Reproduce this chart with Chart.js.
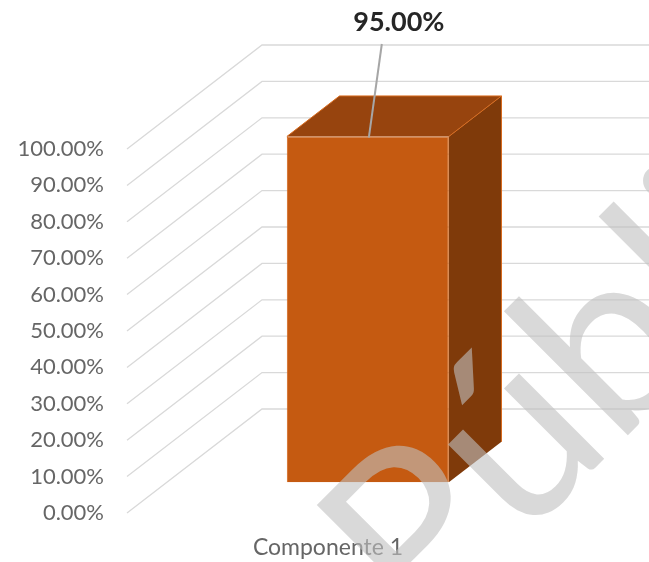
<!DOCTYPE html>
<html>
<head>
<meta charset="utf-8">
<script src="https://cdn.jsdelivr.net/npm/chart.js@4.4.1/dist/chart.umd.min.js"></script>
<style>
  html, body { margin: 0; padding: 0; background: #fff; }
  #wrap { width: 649px; height: 562px; position: relative; }
</style>
</head>
<body>
<div id="wrap"><canvas id="barChart"></canvas></div>
<script>
var categories = ['Componente 1'];
var values = [95];
var yMin = 0;
var yMax = 100;
var yStep = 10;
var watermarkText = 'Público';

// oblique depth of the 3d box (pixels for full depth)
var depthX = 135;
var depthY = -104;
var barFront = 0.295;
var barBack = 0.685;

function fmtPct(v) {
    return Number(v).toFixed(2) + '%';
}

var box3d = {
    id: 'box3d',
    beforeDatasetsDraw: function (chart) {
        var ctx = chart.ctx;
        var area = chart.chartArea;
        var yScale = chart.scales.y;

        // walls
        ctx.save();
        ctx.strokeStyle = '#d9d9d9';
        ctx.lineWidth = 1.3;
        yScale.ticks.forEach(function (t) {
            var y = yScale.getPixelForValue(t.value);
            ctx.beginPath();
            ctx.moveTo(area.left, y);
            ctx.lineTo(area.left + depthX, y + depthY);
            ctx.lineTo(chart.width, y + depthY);
            ctx.stroke();
        });

        // top and side faces
        var fx = depthX * barFront, fy = depthY * barFront;
        var bx = depthX * (barBack - barFront), by = depthY * (barBack - barFront);
        chart.getDatasetMeta(0).data.forEach(function (bar) {
            var p = bar.getProps(['x', 'y', 'base', 'width'], true);
            var l = p.x - p.width / 2 + fx, r = p.x + p.width / 2 + fx;
            var t = p.y + fy, b = p.base + fy;

            ctx.fillStyle = '#7f3a0a';
            ctx.beginPath();
            ctx.moveTo(r, t);
            ctx.lineTo(r + bx, t + by);
            ctx.lineTo(r + bx, b + by);
            ctx.lineTo(r, b);
            ctx.closePath();
            ctx.fill();

            ctx.fillStyle = '#97440e';
            ctx.beginPath();
            ctx.moveTo(l, t);
            ctx.lineTo(l + bx, t + by);
            ctx.lineTo(r + bx, t + by);
            ctx.lineTo(r, t);
            ctx.closePath();
            ctx.fill();

            ctx.strokeStyle = '#d86a1c';
            ctx.lineWidth = 1;
            ctx.beginPath();
            ctx.moveTo(l, t);
            ctx.lineTo(l + bx, t + by);
            ctx.lineTo(r + bx, t + by);
            ctx.lineTo(r + bx, b + by);
            ctx.moveTo(r + bx, t + by);
            ctx.lineTo(r, t);
            ctx.stroke();
        });

        ctx.translate(fx, fy);
    },
    afterDatasetsDraw: function (chart) {
        var ctx = chart.ctx;
        ctx.restore();

        var fx = depthX * barFront, fy = depthY * barFront;
        chart.getDatasetMeta(0).data.forEach(function (bar, i) {
            var p = bar.getProps(['x', 'y'], true);
            var cx = p.x + fx;
            var topY = p.y + fy;
            var lx = cx + 31, ly = 22;

            ctx.save();
            ctx.strokeStyle = '#a6a6a6';
            ctx.lineWidth = 2;
            ctx.beginPath();
            ctx.moveTo(lx - 17, ly + 22);
            ctx.lineTo(cx + 1, topY + 1);
            ctx.stroke();

            ctx.fillStyle = '#262626';
            ctx.font = 'bold 27px Lato';
            ctx.textAlign = 'center';
            ctx.textBaseline = 'middle';
            ctx.fillText(fmtPct(values[i]), lx, ly);
            ctx.restore();
        });
    },
    afterDraw: function (chart) {
        var ctx = chart.ctx;
        ctx.save();
        ctx.translate(422, 641);
        ctx.rotate(-Math.PI / 4);
        ctx.fillStyle = 'rgba(191,191,191,0.6)';
        ctx.font = '238px Lato';
        ctx.textBaseline = 'alphabetic';
        ctx.fillText(watermarkText, 0, 0);
        ctx.restore();
    }
};

var ctx = document.getElementById('barChart');
var barChart = new Chart(ctx, {
    type: 'bar',
    data: {
        labels: categories,
        datasets: [
            {
                data: values,
                backgroundColor: '#c55a11',
                borderColor: '#d3661a',
                borderWidth: 1,
                barPercentage: 1,
                categoryPercentage: 0.403,
                clip: false
            }
        ]
    },
    options: {
        responsive: true,
        maintainAspectRatio: false,
        animation: false,
        events: [],
        layout: {
            padding: { top: 149, right: 120, bottom: 0, left: 0 }
        },
        plugins: {
            legend: { display: false },
            tooltip: { enabled: false }
        },
        scales: {
            x: {
                grid: { display: false, drawTicks: false },
                border: { display: false },
                ticks: {
                    color: '#666666',
                    font: { family: 'Lato', size: 23 },
                    padding: 21
                },
                afterFit: function (scale) { scale.height = 49; }
            },
            y: {
                min: yMin,
                max: yMax,
                grid: { display: false, drawTicks: false },
                border: { display: false },
                ticks: {
                    stepSize: yStep,
                    color: '#666666',
                    font: { family: 'Lato', size: 22 },
                    padding: 23,
                    callback: function (v) { return fmtPct(v); }
                },
                afterFit: function (scale) { scale.width = 127; }
            }
        }
    },
    plugins: [box3d]
});
</script>
</body>
</html>
